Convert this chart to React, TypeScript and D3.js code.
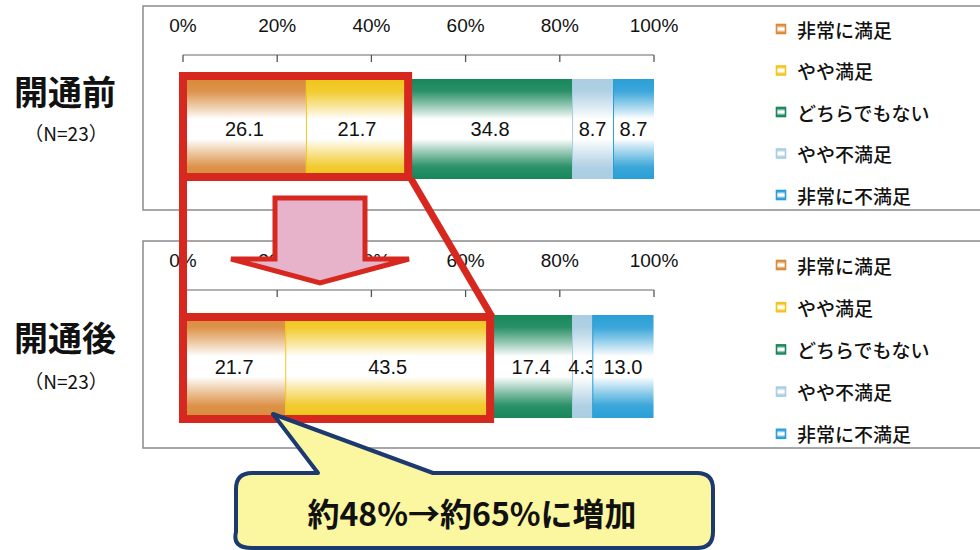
import React from "react";
import * as d3 from "d3";

const categories = ["開通前", "開通後"];
const sampleLabels = ["（N=23）", "（N=23）"];
const seriesNames = ["非常に満足", "やや満足", "どちらでもない", "やや不満足", "非常に不満足"];
const beforeValues = [26.1, 21.7, 34.8, 8.7, 8.7];
const afterValues = [21.7, 43.5, 17.4, 4.3, 13.0];
const tickValues = [0, 20, 40, 60, 80, 100];
const highlightCount = 2; // first two series highlighted
const calloutText = "約48%→約65%に増加";

const seriesColors = ["#d98a3a", "#f0c61c", "#17875a", "#a9cde2", "#2a9fd6"];

const W = 980;
const H = 550;
const JP = "'Noto Sans CJK JP', 'Noto Sans', sans-serif";
const NUM = "'Liberation Sans', Arial, sans-serif";
const RED = "#d6281f";

const x = d3.scaleLinear().domain([0, 100]).range([183, 654]);

const panels = [
  { values: beforeValues, frameTop: 6, frameBottom: 210, axisY: 55, tickLabelY: 32, barTop: 79, barBottom: 179, legendY0: 29, legendStep: 41.5, catY: 90, nY: 132, boxTop: 76, boxBottom: 177 },
  { values: afterValues, frameTop: 241, frameBottom: 448, axisY: 290, tickLabelY: 267, barTop: 315, barBottom: 418, legendY0: 265, legendStep: 42.2, catY: 336, nY: 380, boxTop: 317, boxBottom: 419 },
];

function stackOf(values: number[]) {
  let acc = 0;
  return values.map((v, i) => {
    const s = { i, v, x0: acc, x1: acc + v };
    acc += v;
    return s;
  });
}

export default function App() {
  const stacks = panels.map((p) => stackOf(p.values));
  const hiEnd = stacks.map((s) => s[highlightCount - 1].x1);

  const topBox = { x0: x(0), x1: x(hiEnd[0]), y0: panels[0].boxTop, y1: panels[0].boxBottom };
  const botBox = { x0: x(0), x1: x(hiEnd[1]), y0: panels[1].boxTop, y1: panels[1].boxBottom };

  // arrow geometry
  const ax0 = 275, ax1 = 365, ayTop = 198, ayWing = 259, awL = 231, awR = 409, tipX = 320, tipY = 283;
  const arrowPts = [
    [ax0, ayTop], [ax1, ayTop], [ax1, ayWing], [awR, ayWing], [tipX, tipY], [awL, ayWing], [ax0, ayWing],
  ];

  // callout geometry
  const cx0 = 236, cx1 = 713, cy0 = 473, cy1 = 548, r = 16;
  const tail = { a: 318, b: 433, tx: 273, ty: 414 };
  const calloutPath = [
    `M ${cx0 + r} ${cy0}`,
    `L ${tail.a} ${cy0}`,
    `L ${tail.tx} ${tail.ty}`,
    `L ${tail.b} ${cy0}`,
    `L ${cx1 - r} ${cy0}`,
    `Q ${cx1} ${cy0} ${cx1} ${cy0 + r}`,
    `L ${cx1} ${cy1 - r}`,
    `Q ${cx1} ${cy1} ${cx1 - r} ${cy1}`,
    `L ${cx0 + r} ${cy1}`,
    `Q ${cx0 - 4} ${cy1} ${cx0} ${cy1 - r}`,
    `L ${cx0} ${cy0 + r}`,
    `Q ${cx0} ${cy0} ${cx0 + r} ${cy0}`,
    "Z",
  ].join(" ");

  return (
    <svg
      width={W}
      height={H}
      viewBox={`0 0 ${W} ${H}`}
      style={{ position: "absolute", left: 0, top: 0, background: "#fff" }}
    >
      <defs>
        {seriesColors.map((c, i) => (
          <linearGradient key={i} id={`g${i}`} x1="0" y1="0" x2="0" y2="1">
            <stop offset="0" stopColor={c} />
            <stop offset="0.12" stopColor={c} stopOpacity={0.92} />
            <stop offset="0.4" stopColor="#ffffff" />
            <stop offset="0.6" stopColor="#ffffff" />
            <stop offset="0.88" stopColor={c} stopOpacity={0.92} />
            <stop offset="1" stopColor={c} />
          </linearGradient>
        ))}
      </defs>
      <rect x={0} y={0} width={W} height={H} fill="#fff" />

      {panels.map((p, pi) => (
        <g key={pi}>
          {/* frame */}
          <rect
            x={143}
            y={p.frameTop}
            width={W}
            height={p.frameBottom - p.frameTop}
            fill="none"
            stroke="#8a8a8a"
            strokeWidth={1.5}
          />
          {/* category labels */}
          <text x={65} y={p.catY} textAnchor="middle" dominantBaseline="central" fontFamily={JP} fontWeight={700} fontSize={34} fill="#111">
            {categories[pi]}
          </text>
          <text x={66} y={p.nY} textAnchor="middle" dominantBaseline="central" fontFamily={JP} fontSize={19} fill="#111">
            {sampleLabels[pi]}
          </text>
          {/* axis */}
          <line x1={x(0)} x2={x(100)} y1={p.axisY} y2={p.axisY} stroke="#666" strokeWidth={1.2} />
          {tickValues.map((t) => (
            <g key={t}>
              <line x1={x(t)} x2={x(t)} y1={p.axisY} y2={p.axisY + 7} stroke="#555" strokeWidth={1.3} />
              <text x={x(t)} y={p.tickLabelY} textAnchor="middle" fontFamily={NUM} fontSize={19} fill="#111">
                {t}%
              </text>
            </g>
          ))}
          {/* bars */}
          {stacks[pi].map((s) => (
            <g key={s.i}>
              <rect
                x={x(s.x0)}
                y={p.barTop}
                width={x(s.x1) - x(s.x0)}
                height={p.barBottom - p.barTop}
                fill={`url(#g${s.i})`}
              />
              <line x1={x(s.x0) + 0.5} x2={x(s.x0) + 0.5} y1={p.barTop} y2={p.barBottom} stroke={seriesColors[s.i]} strokeWidth={1} />
              <text
                x={(x(s.x0) + x(s.x1)) / 2}
                y={(p.barTop + p.barBottom) / 2}
                textAnchor="middle"
                dominantBaseline="central"
                fontFamily={NUM}
                fontSize={20}
                fill="#111"
              >
                {s.v.toFixed(1)}
              </text>
            </g>
          ))}
          {/* legend */}
          {seriesNames.map((name, i) => {
            const ly = p.legendY0 + p.legendStep * i;
            return (
              <g key={name}>
                <rect x={776.5} y={ly - 4.5} width={9} height={9} fill={`url(#g${i})`} stroke={seriesColors[i]} strokeWidth={1.6} />
                <text x={797} y={ly} dominantBaseline="central" fontFamily={JP} fontWeight={500} fontSize={19} fill="#111">
                  {name}
                </text>
              </g>
            );
          })}
        </g>
      ))}

      {/* highlight boxes and connectors */}
      <line x1={topBox.x0} x2={botBox.x0} y1={topBox.y1} y2={botBox.y0} stroke={RED} strokeWidth={8} />
      <line x1={topBox.x1 + 3} x2={botBox.x1 + 2} y1={topBox.y1 + 2} y2={botBox.y0} stroke={RED} strokeWidth={7} />
      {[topBox, botBox].map((b, i) => (
        <rect key={i} x={b.x0} y={b.y0} width={b.x1 - b.x0} height={b.y1 - b.y0} fill="none" stroke={RED} strokeWidth={8} />
      ))}

      {/* arrow */}
      <polygon
        points={arrowPts.map((pt) => pt.join(",")).join(" ")}
        fill="#e7b3cb"
        stroke={RED}
        strokeWidth={5}
        strokeLinejoin="miter"
      />

      {/* callout */}
      <path d={calloutPath} fill="#fbf6a0" stroke="#1c3a70" strokeWidth={4} strokeLinejoin="round" />
      <text x={472} y={512} textAnchor="middle" dominantBaseline="central" fontFamily={JP} fontWeight={700} fontSize={32} fill="#111">
        {calloutText}
      </text>
    </svg>
  );
}
